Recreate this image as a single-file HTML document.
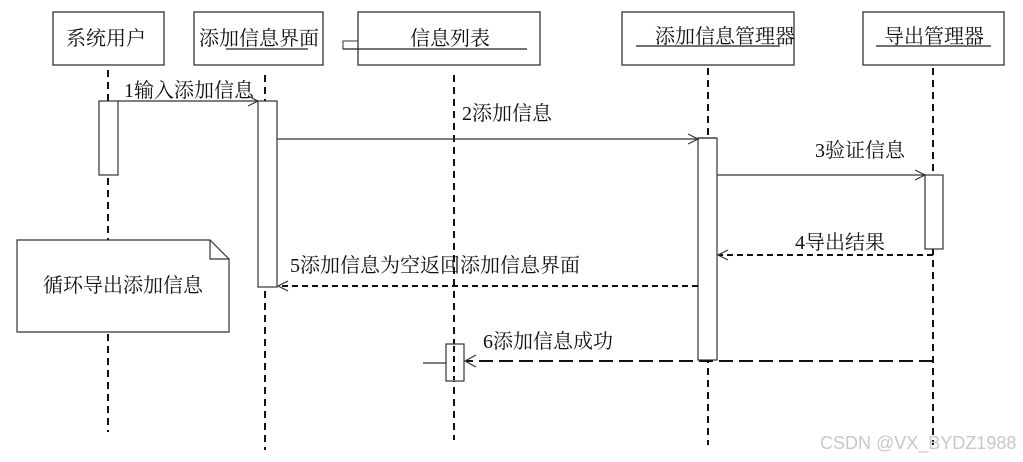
<!DOCTYPE html>
<html><head><meta charset="utf-8"><style>
html,body{margin:0;padding:0;background:#fff;}
svg{display:block;}
text{font-family:"Liberation Serif","Noto Serif CJK SC","Noto Sans CJK SC",serif;font-size:20px;fill:#111;}
</style></head><body>
<svg width="1023" height="462" viewBox="0 0 1023 462" xmlns="http://www.w3.org/2000/svg">
<g fill="#fff" stroke="#333" stroke-width="1.3">
<rect x="53" y="12" width="111" height="53"/>
<rect x="194" y="12" width="129" height="53"/>
<rect x="358" y="12" width="182" height="53"/>
<rect x="622" y="12" width="172" height="53"/>
<rect x="863" y="12" width="141" height="53"/>
</g>
<rect x="343" y="41" width="15" height="8" fill="none" stroke="#333"/>
<g stroke="#222" stroke-width="1.2">
<line x1="343" y1="49" x2="527" y2="49"/>
<line x1="226" y1="49" x2="308" y2="49"/>
<line x1="636" y1="46" x2="780" y2="46"/>
<line x1="876" y1="46" x2="991" y2="46"/>
</g>
<text x="66" y="45">系统用户</text>
<text x="199" y="45">添加信息界面</text>
<text x="410" y="45">信息列表</text>
<text x="655" y="43">添加信息管理器</text>
<text x="884" y="43">导出管理器</text>
<g stroke="#111" stroke-width="2" stroke-dasharray="7,5" fill="none">
<line x1="108" y1="70" x2="108" y2="432"/>
<line x1="265" y1="75" x2="265" y2="450"/>
<line x1="454" y1="75" x2="454" y2="440"/>
<line x1="708" y1="68" x2="708" y2="445"/>
<line x1="933" y1="68" x2="933" y2="445"/>
</g>
<g fill="#fff" stroke="#333" stroke-width="1.2">
<rect x="99" y="101" width="19" height="74"/>
<rect x="258" y="101" width="19" height="186"/>
<rect x="698" y="138" width="19" height="222"/>
<rect x="925" y="175" width="18" height="74"/>
</g>
<g stroke="#333" stroke-width="1.2" fill="none">
<line x1="118" y1="101" x2="258" y2="101"/><polyline points="248,96 258,101 248,106"/>
<line x1="277" y1="139" x2="698" y2="139"/><polyline points="688,134 698,139 688,144"/>
<line x1="717" y1="175" x2="925" y2="175"/><polyline points="915,170 925,175 915,180"/>
<line x1="698" y1="138" x2="716" y2="138"/>
</g>
<g stroke="#111" stroke-width="2" stroke-dasharray="6,4" fill="none">
<line x1="933" y1="255" x2="718" y2="255"/>
<line x1="698" y1="286" x2="278" y2="286"/>
</g>
<g stroke="#111" stroke-width="2" stroke-dasharray="14,6" fill="none">
<line x1="933" y1="361" x2="466" y2="361"/>
</g>
<g stroke="#333" stroke-width="1.2" fill="none">
<polyline points="728,250 718,255 728,260"/>
<polyline points="288,281 278,286 288,291"/>
<polyline points="476,355 465,361 476,367"/>
<line x1="423" y1="363" x2="446" y2="363"/>
<rect x="446" y="344" width="18" height="37" fill="#fff"/>
</g>
<line x1="454" y1="346" x2="454" y2="380" stroke="#111" stroke-width="2" stroke-dasharray="6,4"/>
<path d="M17 240 H210 L229 259 V332 H17 Z" fill="#fff" stroke="#333" stroke-width="1.2"/>
<path d="M210 240 V259 H229" fill="none" stroke="#333" stroke-width="1.2"/>
<text x="123" y="292" text-anchor="middle">循环导出添加信息</text>
<text x="124" y="97">1输入添加信息</text>
<text x="462" y="120">2添加信息</text>
<text x="815" y="157">3验证信息</text>
<text x="795" y="249">4导出结果</text>
<text x="290" y="272">5添加信息为空返回添加信息界面</text>
<text x="483" y="348">6添加信息成功</text>
<text x="820" y="449" style="font-family:'Liberation Sans',sans-serif;font-size:18px;fill:#c8c8c8">CSDN @VX_BYDZ1988</text>
</svg>
</body></html>
